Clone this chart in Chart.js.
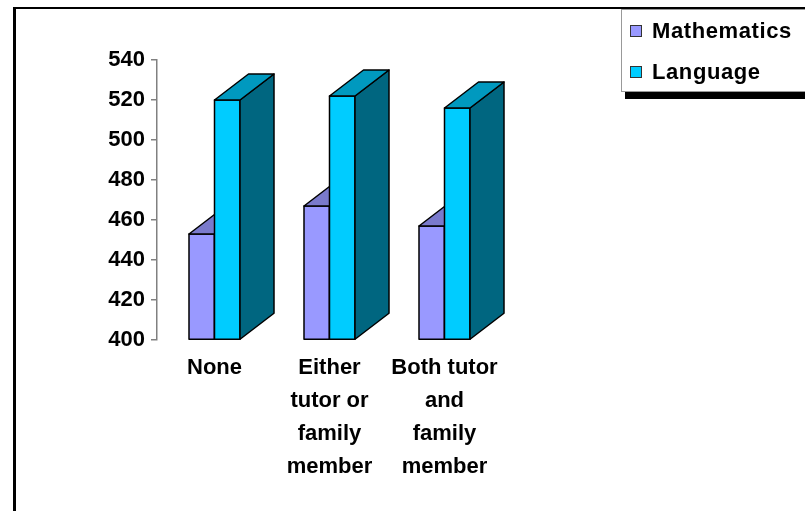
<!DOCTYPE html>
<html>
<head>
<meta charset="utf-8">
<script src="https://cdn.jsdelivr.net/npm/chart.js@4/dist/chart.umd.min.js"></script>
<style>
    body { margin: 0; background: #fff; font-family: "Liberation Sans", Arial, sans-serif; }
    #wrap { position: relative; width: 805px; height: 511px; overflow: hidden; }
    #frame { position: absolute; left: 13px; top: 7px; width: 900px; height: 600px;
             border-top: 2px solid #000; border-left: 3px solid #000; }
    #chart { position: absolute; left: 0; top: 0; }
    #legend { position: absolute; left: 621px; top: 9px; width: 220px; height: 81px;
              background: #fff; border: 1px solid #999; box-shadow: 4px 7px 0 #000; }
    .item { position: absolute; left: 8px; height: 26px; display: flex; align-items: center;
            font-weight: bold; font-size: 22px; color: #000; letter-spacing: 0.6px; }
    .swatch { width: 10px; height: 10px; border: 1px solid #333; margin-right: 10px; }
</style>
</head>
<body>
<div id="wrap">
    <div id="frame"></div>
    <canvas id="chart" width="805" height="511"></canvas>
    <div id="legend"></div>
</div>
<script>
// Data
const categories = [['None'], ['Either', 'tutor or', 'family', 'member'], ['Both tutor', 'and', 'family', 'member']];
const mathScores = [453, 467, 457];
const languageScores = [520, 522, 516];
const seriesNames = ['Mathematics', 'Language'];
const yTicks = [400, 420, 440, 460, 480, 500, 520, 540];

// Colours: front, top, side
const faceColors = [
    ['#9999FF', '#7A7ACC', '#5C5C99'],
    ['#00CCFF', '#0099BF', '#006680']
];

const DX = 34, DY = 26; // 3D depth offset

// Redraws every bar as a 3D box (front, side, top), category by category
const depthPlugin = {
    id: 'depth',
    afterDatasetsDraw(chart) {
        const ctx = chart.ctx;
        const metas = chart.data.datasets.map((d, i) => chart.getDatasetMeta(i));
        const count = chart.data.labels.length;
        ctx.save();
        ctx.lineWidth = 1.5;
        ctx.strokeStyle = '#000';
        ctx.lineJoin = 'round';
        for (let c = 0; c < count; c++) {
            metas.forEach((meta, s) => {
                const cols = faceColors[s];
                const { x, y, base, width } = meta.data[c].getProps(['x', 'y', 'base', 'width'], true);
                const l = x - width / 2, r = x + width / 2;
                // front
                ctx.fillStyle = cols[0];
                ctx.fillRect(l, y, width, base - y);
                ctx.strokeRect(l, y, width, base - y);
                // side
                ctx.beginPath();
                ctx.moveTo(r, y);
                ctx.lineTo(r + DX, y - DY);
                ctx.lineTo(r + DX, base - DY);
                ctx.lineTo(r, base);
                ctx.closePath();
                ctx.fillStyle = cols[2];
                ctx.fill();
                ctx.stroke();
                // top
                ctx.beginPath();
                ctx.moveTo(l, y);
                ctx.lineTo(l + DX, y - DY);
                ctx.lineTo(r + DX, y - DY);
                ctx.lineTo(r, y);
                ctx.closePath();
                ctx.fillStyle = cols[1];
                ctx.fill();
                ctx.stroke();
            });
        }
        ctx.restore();
    }
};

const tickFont = { family: '"Liberation Sans", Arial, sans-serif', size: 22, weight: 'bold' };

new Chart(document.getElementById('chart'), {
    type: 'bar',
    data: {
        labels: categories,
        datasets: [
            { label: seriesNames[0], data: mathScores, backgroundColor: faceColors[0][0] },
            { label: seriesNames[1], data: languageScores, backgroundColor: faceColors[1][0] }
        ]
    },
    options: {
        responsive: false,
        animation: false,
        layout: { padding: { left: 0, top: 60, right: 303, bottom: 0 } },
        datasets: {
            bar: {
                base: yTicks[0],
                borderWidth: 0,
                barPercentage: 1,
                categoryPercentage: 0.4435
            }
        },
        plugins: {
            legend: { display: false },
            tooltip: { enabled: false }
        },
        scales: {
            x: {
                grid: { display: false, drawTicks: false },
                border: { display: false },
                ticks: { color: '#000', font: { ...tickFont, lineHeight: 1.5 }, padding: 11, maxRotation: 0, autoSkip: false },
                afterFit: s => { s.height = 171; }
            },
            y: {
                min: yTicks[0],
                max: yTicks[yTicks.length - 1],
                afterBuildTicks: s => { s.ticks = yTicks.map(v => ({ value: v })); },
                grid: { drawOnChartArea: false, drawTicks: true, tickLength: 6, color: '#808080', lineWidth: 1.5 },
                border: { color: '#808080', width: 1.5 },
                ticks: { color: '#000', font: tickFont, padding: 6 },
                afterFit: s => { s.width = 157; }
            }
        }
    },
    plugins: [depthPlugin]
});

// Legend
const legend = document.getElementById('legend');
seriesNames.forEach((name, i) => {
    const item = document.createElement('div');
    item.className = 'item';
    item.style.top = (8 + i * 41) + 'px';
    item.innerHTML = `<span class="swatch" style="background:${faceColors[i][0]}"></span>${name}`;
    legend.appendChild(item);
});
</script>
</body>
</html>
